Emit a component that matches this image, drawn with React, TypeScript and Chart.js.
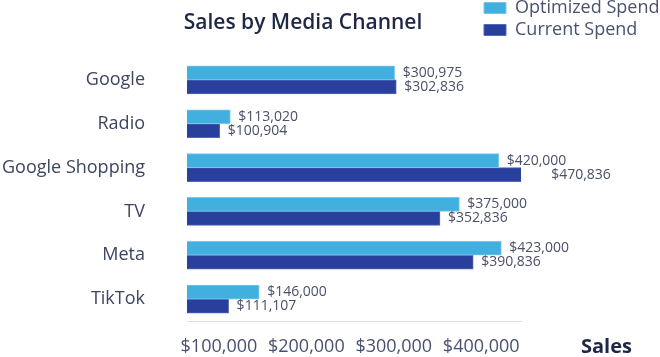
import React, { useEffect, useRef } from 'react';
import { Chart, registerables } from 'chart.js';

Chart.register(...registerables);

const categories = ['Google', 'Radio', 'Google Shopping', 'TV', 'Meta', 'TikTok'];
const optimizedSpend = [300975, 113020, 420000, 375000, 423000, 146000];
const currentSpend = [302836, 100904, 470836, 352836, 390836, 111107];
const xTickValues = [100000, 200000, 300000, 400000];
const seriesNames = ['Optimized Spend', 'Current Spend'];
const titleText = 'Sales by Media Channel';
const axisLabel = 'Sales';
const xMin = 63500;
const xMax = 445500;

const FONT = '"Open Sans", "Noto Sans", sans-serif';
const fmt = (v: number) => '$' + v.toLocaleString('en-US');

const placePlugin = {
  id: 'placeBlocks',
  afterLayout(chart: any) {
    const lg = chart.legend;
    if (lg) {
      const w = lg.width;
      const h = lg.height;
      lg.left = 480;
      lg.top = -5;
      lg.right = 480 + w;
      lg.bottom = -5 + h;
    }
    const tb = chart.titleBlock;
    if (tb) {
      tb.left = 0;
      tb.right = 606;
    }
  },
};

const valueLabels = {
  id: 'valueLabels',
  afterDatasetsDraw(chart: any) {
    const ctx = chart.ctx;
    ctx.save();
    ctx.font = `14px ${FONT}`;
    ctx.fillStyle = '#4a5068';
    ctx.textAlign = 'left';
    ctx.textBaseline = 'middle';
    chart.data.datasets.forEach((ds: any, di: number) => {
      const meta = chart.getDatasetMeta(di);
      meta.data.forEach((el: any, i: number) => {
        ctx.fillText(fmt(ds.data[i]), el.x + 8, el.y);
      });
    });
    const xs = chart.scales.x;
    ctx.font = `bold 20px ${FONT}`;
    ctx.fillStyle = '#1f2747';
    ctx.fillText(axisLabel, chart.chartArea.right + 60, xs.top + 26);
    ctx.restore();
  },
};

export default function App() {
  const ref = useRef<HTMLCanvasElement>(null);
  useEffect(() => {
    if (!ref.current) return;
    const chart = new Chart(ref.current, {
      type: 'bar',
      data: {
        labels: categories,
        datasets: [
          {
            label: seriesNames[0],
            data: optimizedSpend,
            backgroundColor: '#41b0df',
            borderColor: '#78c8ec',
            borderWidth: 1,
            barThickness: 14,
          },
          {
            label: seriesNames[1],
            data: currentSpend,
            backgroundColor: '#283f9b',
            borderColor: '#5466b5',
            borderWidth: 1,
            barThickness: 14,
          },
        ],
      },
      options: {
        indexAxis: 'y',
        animation: false,
        responsive: true,
        maintainAspectRatio: false,
        layout: { padding: { left: 0, right: 139, top: 0, bottom: 0 } },
        plugins: {
          title: {
            display: true,
            text: titleText,
            color: '#1f2747',
            font: { family: FONT, size: 21, weight: '600' as any, lineHeight: 1.2 },
            padding: { top: 10, bottom: 22.8 },
          },
          legend: {
            position: 'chartArea' as any,
            align: 'start',
            labels: {
              boxWidth: 22,
              boxHeight: 11,
              padding: 4,
              color: '#4b5170',
              font: { family: FONT, size: 18 },
            },
          },
          tooltip: { enabled: false },
        },
        scales: {
          x: {
            type: 'linear',
            min: xMin,
            max: xMax,
            afterBuildTicks: (scale: any) => {
              scale.ticks = xTickValues.map((v) => ({ value: v }));
            },
            afterFit: (scale: any) => {
              scale.height = 36;
              scale.paddingLeft = 0;
              scale.paddingRight = 0;
            },
            grid: { display: false, drawTicks: false },
            border: { display: true, color: '#dcdcdc', width: 1 },
            ticks: {
              padding: 15,
              color: '#4a5070',
              font: { family: FONT, size: 18 },
              callback: (v: any) => fmt(Number(v)),
            },
          },
          y: {
            afterFit: (scale: any) => {
              scale.width = 187;
              scale.paddingTop = 0;
              scale.paddingBottom = 0;
            },
            grid: { display: false, drawTicks: false },
            border: { display: false },
            ticks: {
              padding: 42,
              color: '#3e4462',
              font: { family: FONT, size: 18 },
            },
          },
        },
      },
      plugins: [placePlugin, valueLabels],
    });
    return () => chart.destroy();
  }, []);
  return (
    <div style={{ position: 'fixed', left: 0, top: 0, width: 660, height: 357 }}>
      <canvas ref={ref} />
    </div>
  );
}
